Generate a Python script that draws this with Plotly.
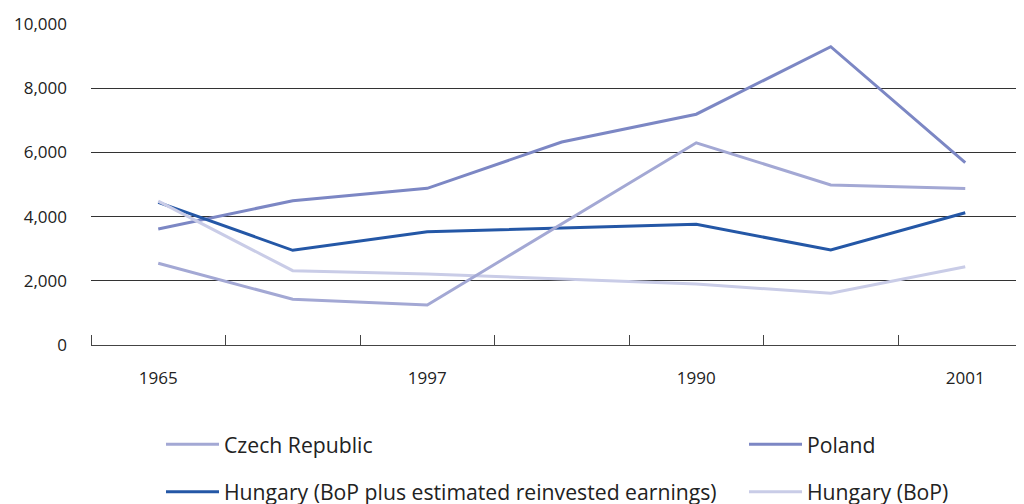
import plotly.graph_objects as go

periods = ["1965", "", "1997", "", "1990", "", "2001"]
czech = [2545, 1425, 1246, 3780, 6300, 4984, 4875]
poland = [3614, 4495, 4880, 6324, 7190, 9293, 5680]
hungary_plus = [4445, 2950, 3530, 3635, 3760, 2960, 4122]
hungary_bop = [4480, 2315, 2212, 2047, 1900, 1610, 2440]

x = list(range(len(periods)))
tickvals = [i for i, p in enumerate(periods) if p]
ticktext = [p for p in periods if p]

C_CZ = "#a3a8d4"
C_PL = "#7c87c4"
C_HP = "#2457a6"
C_HB = "#c9cce7"

FONT = "Open Sans"

fig = go.Figure()
fig.add_trace(go.Scatter(x=x, y=poland, mode="lines", name="Poland",
                         line=dict(color=C_PL, width=3), legend="legend2",
                         legendgroup="pl", legendrank=1))
fig.add_trace(go.Scatter(x=x, y=hungary_plus, mode="lines",
                         name="Hungary (BoP plus estimated reinvested earnings)",
                         line=dict(color=C_HP, width=3), legend="legend",
                         legendgroup="hp", legendrank=2))
fig.add_trace(go.Scatter(x=x, y=hungary_bop, mode="lines", name="Hungary (BoP)",
                         line=dict(color=C_HB, width=3), legend="legend2",
                         legendgroup="hb", legendrank=2))
fig.add_trace(go.Scatter(x=x, y=czech, mode="lines", name="Czech Republic",
                         line=dict(color=C_CZ, width=3), legend="legend",
                         legendgroup="cz", legendrank=1))

# page body has an 8px offset; compensate
L, T, R = 83, 16, 8
plot_w = 1024 - L - R
plot_h = 337 - T
spacing = 134.5
xmax = -0.5 + plot_w / spacing

legend_common = dict(orientation="v", xanchor="left", yanchor="top",
                     font=dict(family=FONT, size=21.2, color="#222"),
                     tracegroupgap=17, itemwidth=53, bgcolor="rgba(0,0,0,0)",
                     traceorder="grouped")

leg_top = 416
fig.update_layout(
    width=1024, height=504,
    margin=dict(l=L, r=R, t=T, b=504 - 337, autoexpand=False),
    paper_bgcolor="white", plot_bgcolor="white",
    font=dict(family=FONT, size=17, color="#222"),
    showlegend=True,
    legend=dict(x=(153 - L) / plot_w, y=(337 - leg_top) / plot_h, **legend_common),
    legend2=dict(x=(736 - L) / plot_w, y=(337 - leg_top) / plot_h, **legend_common),
    xaxis=dict(range=[-0.5, xmax], tickmode="array", tickvals=tickvals,
               ticktext=ticktext, ticks="", showgrid=False, zeroline=False,
               showline=True, linecolor="#444", linewidth=1,
               ticklabelstandoff=18, automargin=False,
               minor=dict(tick0=-0.5, dtick=1, ticks="inside", ticklen=10,
                          tickcolor="#444", tickwidth=1, showgrid=False)),
    yaxis=dict(range=[0, 10000], tickmode="linear", tick0=0, dtick=2000,
               tickformat=",", showgrid=True, gridcolor="#333", gridwidth=1,
               zeroline=False, showline=False, ticks="",
               ticklabelstandoff=23, automargin=False),
)

fig.write_html("out.html")
